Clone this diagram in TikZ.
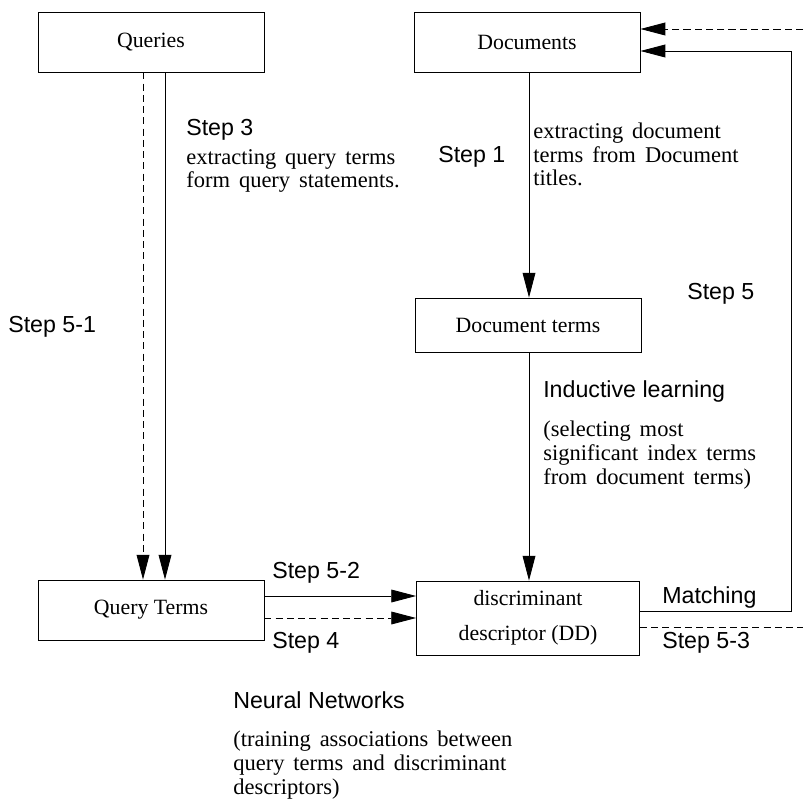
\documentclass[tikz,border=0pt]{standalone}
\usepackage{fontspec}
\setmainfont{Liberation Serif}
\setsansfont{Liberation Sans}
\usetikzlibrary{arrows.meta,calc}

\newcommand\notefont{\fontsize{16}{17}\selectfont\spaceskip=0.4em plus 0.1em\relax}

\tikzset{
    box/.style={draw, line width=0.6pt, minimum width=5.65cm, minimum height=1.5cm,
        inner sep=0pt, font=\fontsize{15.5}{25}\selectfont, align=center},
    flow/.style={line width=0.6pt, -{Triangle[length=6.2mm,width=3.2mm]}},
    back/.style={flow, dash pattern=on 5pt off 3pt},
    backline/.style={line width=0.6pt, dash pattern=on 5pt off 3pt},
    note/.style={anchor=base west, inner sep=0pt, align=left, font=\notefont},
    steplabel/.style={anchor=base west, inner sep=0pt,
        font=\sffamily\fontsize{16.5}{18}\selectfont}
}

\begin{document}
\begin{tikzpicture}[x=0.025cm, y=-0.025cm]
    \useasboundingbox (0,0) rectangle (803,806);
    \path node[box] (queries) at (151,42) {Queries}
        node[box] (docs) at (527,42) {Documents}
        node[box, minimum height=1.35cm] (docterms) at (528,325) {Document terms}
        node[box] (qterms) at (151,610) {Query Terms}
        node[box, minimum width=5.575cm, minimum height=1.85cm] (dd) at (528,618) {discriminant\\descriptor (DD)};
    \coordinate (topin) at (803,29);
    \coordinate (botout) at (803,627);
    % query side
    \draw[back] ($(queries.south)+(-8,0)$) -- ($(qterms.north)+(-8,0)$);
    \draw[flow] ($(queries.south)+(14,0)$) -- ($(qterms.north)+(14,0)$);
    \draw[flow] ($(qterms.east)+(0,-14)$) -- ($(dd.west)+(0,-22)$);
    \draw[back] ($(qterms.east)+(0,8)$) -- (dd.west);
    % document side
    \draw[flow] ($(docs.south)+(2,0)$) -- ($(docterms.north)+(1,0)$);
    \draw[flow] ($(docterms.south)+(1,0)$) -- ($(dd.north)+(1,0)$);
    \draw[flow] ($(dd.east)+(0,-7)$) -- ++(151,0) |- ($(docs.east)+(0,9)$);
    \draw[back] (topin) -- ($(docs.east)+(0,-13)$);
    \draw[backline] ($(dd.east)+(0,9)$) -- (botout);
    % labels
    \node[steplabel] (s3) at (186,136) {Step 3};
    \node[note] (q3) at (186,188) {extracting query terms\\form query statements.};
    \node[steplabel] (s1) at (438,163) {Step 1};
    \node[note] (d1) at (533,186) {extracting document\\terms from Document\\titles.};
    \node[steplabel] (s51) at (8,332) {Step 5-1};
    \node[steplabel] (s5) at (687,299) {Step 5};
    \node[steplabel] (ind) at (543,397) {Inductive learning};
    \node[note] (indtxt) at (543,484) {(selecting most\\significant index terms\\from document terms)};
    \node[steplabel] (s52) at (272,578) {Step 5-2};
    \node[steplabel] (s4) at (272,648) {Step 4};
    \node[steplabel] (match) at (662,603) {Matching};
    \node[steplabel] (s53) at (662,648) {Step 5-3};
    \node[steplabel] (nn) at (233,708) {Neural Networks};
    \node[note] (nntxt) at (233,794) {(training associations between\\query terms and discriminant\\descriptors)};
\end{tikzpicture}
\end{document}
